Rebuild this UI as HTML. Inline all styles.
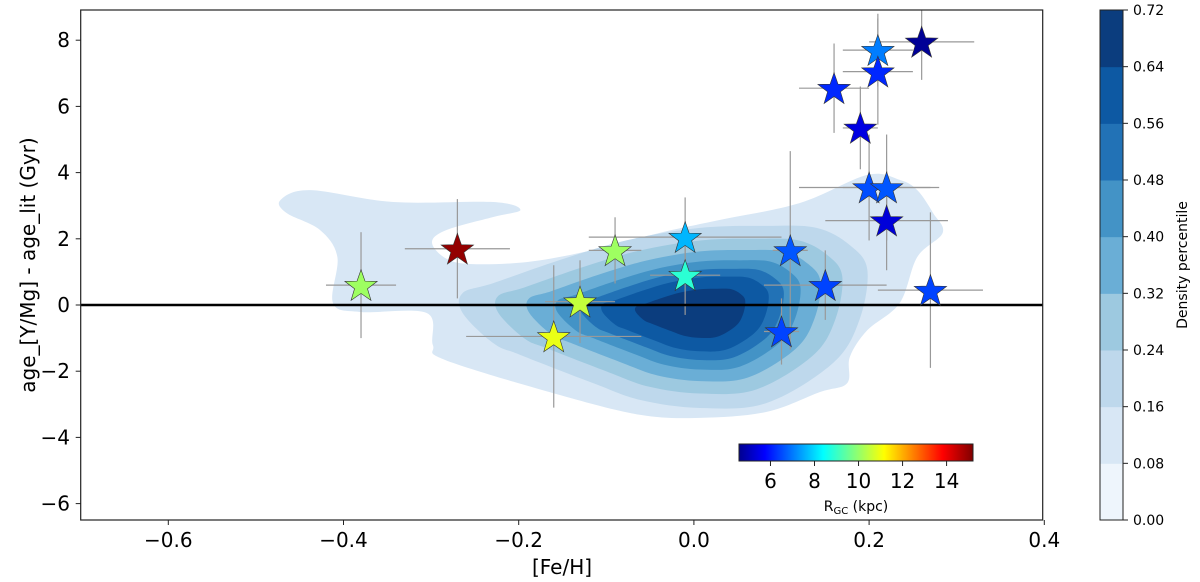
<!DOCTYPE html>
<html><head><meta charset="utf-8">
<style>
html,body{margin:0;padding:0;background:#fff;}
svg{display:block;font-family:"DejaVu Sans","Liberation Sans",sans-serif;}
</style></head>
<body>
<svg id="chart" width="1200" height="582" viewBox="0 0 1200 582">
<defs>
<linearGradient id="jet" x1="0" x2="1" y1="0" y2="0">
<stop offset="0" stop-color="#00008f"/><stop offset="0.11" stop-color="#0000ff"/><stop offset="0.36" stop-color="#00ffff"/>
<stop offset="0.62" stop-color="#ffff00"/><stop offset="0.87" stop-color="#ff0000"/><stop offset="1" stop-color="#800000"/>
</linearGradient>
<clipPath id="plotclip"><rect x="80.7" y="10" width="962" height="510"/></clipPath>
</defs>
<g id="contours" clip-path="url(#plotclip)"></g>
<g id="errs" clip-path="url(#plotclip)"></g>
<line id="zeroline" stroke="#000" stroke-width="2.5"/>
<g id="stars" clip-path="url(#plotclip)"></g>
<rect x="80.7" y="10" width="962" height="510" fill="none" stroke="#222" stroke-width="1.2"/>
<g id="xticks"></g>
<g id="yticks"></g>
<text x="562" y="574" font-size="20" text-anchor="middle">[Fe/H]</text>
<text transform="translate(35,265) rotate(-90)" font-size="20" text-anchor="middle">age_[Y/Mg] - age_lit (Gyr)</text>
<g>
<rect x="739" y="444" width="234" height="17" fill="url(#jet)" stroke="#222" stroke-width="1"/>
<g id="rgcticks"></g>
<text x="856" y="511" font-size="14" text-anchor="middle">R<tspan font-size="10" dy="3">GC</tspan><tspan dy="-3"> (kpc)</tspan></text>
</g>
<g id="dcb"></g>
<text transform="translate(1187,265) rotate(-90)" font-size="14" text-anchor="middle">Density percentile</text>
</svg>
<script>
// ---- data ----
const feh   = [-0.38,-0.27,-0.16,-0.13,-0.09,-0.01,-0.01,0.10,0.11,0.15,0.27,0.22,0.20,0.22,0.26,0.21,0.21,0.16,0.19];
const dAge  = [0.6,1.7,-0.95,0.1,1.65,2.05,0.9,-0.8,1.65,0.6,0.45,2.55,3.55,3.55,7.95,7.7,7.05,6.55,5.35];
const xErr  = [0.04,0.06,0.10,0.04,0.03,0.11,0.04,0.02,0.02,0.07,0.06,0.07,0.08,0.05,0.06,0.04,0.04,0.04,0.02];
const yErr  = [1.6,1.5,2.15,1.25,1.0,1.2,1.2,1.0,3.0,1.05,2.35,1.5,1.6,1.6,1.15,1.1,1.6,1.35,1.25];
const rgc   = [10.2,15.0,11.0,10.6,10.2,7.8,9.0,6.6,6.8,6.6,6.6,5.5,6.7,6.8,4.8,7.2,6.3,6.3,5.6];
const xTicks = [-0.6,-0.4,-0.2,0.0,0.2,0.4];
const xTickLabels = ["\u22120.6","\u22120.4","\u22120.2","0.0","0.2","0.4"];
const yTicks = [-6,-4,-2,0,2,4,6,8];
const yTickLabels = ["\u22126","\u22124","\u22122","0","2","4","6","8"];
const rgcTicks = [6,8,10,12,14];
const densLevels = [0.00,0.08,0.16,0.24,0.32,0.40,0.48,0.56,0.64,0.72];
const densColors = ["#eef5fc","#d8e7f5","#bed8ec","#9dc9e0","#6aaed6","#4393c6","#2272b6","#0d59a3","#0b3d7e"];
// outer (0.08) contour in data coords [feh, dAge]
const outerX = [-0.472,-0.438,-0.343,-0.229,-0.198,-0.229,-0.282,-0.299,-0.284,-0.256,-0.190,-0.115,-0.039,0.030,0.121,0.198,0.235,0.255,0.273,0.284,0.255,0.235,0.198,0.178,0.175,0.144,0.083,0.007,-0.061,-0.153,-0.284,-0.298,-0.305,-0.381,-0.412,-0.407,-0.427,-0.465];
const outerY = [3.17,3.47,3.11,3.11,2.87,2.66,2.27,1.90,1.42,1.24,1.30,1.66,2.18,2.57,3.08,3.93,3.78,3.47,2.78,2.18,1.45,0.06,-0.76,-1.57,-2.36,-2.63,-3.23,-3.41,-3.32,-2.72,-1.66,-1.21,-0.24,-0.21,0.06,1.45,2.27,2.78];
// 0.16 contour
const innerX = [-0.264,-0.229,-0.153,-0.076,0.007,0.083,0.140,0.178,0.198,0.189,0.159,0.083,0.007,-0.061,-0.115,-0.198,-0.229,-0.264];
const innerY = [0.36,0.66,1.36,1.96,2.33,2.39,2.33,1.81,1.06,-0.45,-1.75,-2.96,-3.11,-2.87,-2.36,-1.51,-1.15,-0.24];
const coreX = 0.007, coreY = -0.21;
const innerScales = [0.85,0.72,0.60,0.50,0.41,0.27];

// ---- axes ----
const X = v => 80.7 + (v + 0.7) * 876;
const Y = v => 305 - v * 33.1;
const XR = v => 739 + (v - 4.57) / (15.2 - 4.57) * 234;
const NS = "http://www.w3.org/2000/svg";
function mk(tag, attrs, parent){const e=document.createElementNS(NS,tag);for(const k in attrs)e.setAttribute(k,attrs[k]);parent.appendChild(e);return e;}

function smoothPath(pts){
  const n=pts.length;let d=`M${pts[0][0]},${pts[0][1]}`;
  for(let i=0;i<n;i++){
    const p0=pts[(i-1+n)%n],p1=pts[i],p2=pts[(i+1)%n],p3=pts[(i+2)%n];
    const c1=[p1[0]+(p2[0]-p0[0])/6,p1[1]+(p2[1]-p0[1])/6];
    const c2=[p2[0]-(p3[0]-p1[0])/6,p2[1]-(p3[1]-p1[1])/6];
    d+=`C${c1[0]},${c1[1]} ${c2[0]},${c2[1]} ${p2[0]},${p2[1]}`;
  }
  return d+"Z";
}
const cg=document.getElementById('contours');
{
  const pts=outerX.map((x,i)=>[X(x),Y(outerY[i])]);
  const p=mk('path',{d:smoothPath(pts),fill:densColors[1]},cg);
  
  
}
const allScales=[1].concat(innerScales);
allScales.forEach((s,k)=>{
  const pts=innerX.map((x,i)=>[X(coreX+(x-coreX)*s),Y(coreY+(innerY[i]-coreY)*s)]);
  const p=mk('path',{d:smoothPath(pts),fill:densColors[k+2]},cg);
  
  
});

const zl=document.getElementById('zeroline');
zl.setAttribute('x1',80.7);zl.setAttribute('x2',1042.7);zl.setAttribute('y1',Y(0));zl.setAttribute('y2',Y(0));

function jet(v){
  const t=Math.max(0,Math.min(1,(v-4.57)/(15.2-4.57)));
  const f=(a)=>Math.max(0,Math.min(1,1.5-Math.abs(4*t-a)));
  return `rgb(${Math.round(255*f(3))},${Math.round(255*f(2))},${Math.round(255*f(1))})`;
}
function starPath(cx,cy,R){
  const r=R*0.4;let d="";
  for(let i=0;i<10;i++){const a=-Math.PI/2+i*Math.PI/5;const rr=i%2?r:R;d+=(i?"L":"M")+(cx+rr*Math.cos(a)).toFixed(2)+","+(cy+rr*Math.sin(a)).toFixed(2);}
  return d+"Z";
}
const eg=document.getElementById('errs'),sg=document.getElementById('stars');
feh.forEach((x,i)=>{
  const h=mk('line',{x1:X(x-xErr[i]),x2:X(x+xErr[i]),y1:Y(dAge[i]),y2:Y(dAge[i]),stroke:"#999",'stroke-width':1.2},eg);
  
  
  const v=mk('line',{x1:X(x),x2:X(x),y1:Y(dAge[i]-yErr[i]),y2:Y(dAge[i]+yErr[i]),stroke:"#999",'stroke-width':1.2},eg);
  
  
});
feh.forEach((x,i)=>{
  const s=mk('path',{d:starPath(X(x),Y(dAge[i])+1.5,17),fill:jet(rgc[i]),stroke:"#333",'stroke-width':0.6},sg);
  
  
});

const xt=document.getElementById('xticks');
xTicks.forEach((v,i)=>{
  const l=mk('line',{x1:X(v),x2:X(v),y1:520,y2:525,stroke:"#222",'stroke-width':1},xt);
  
  
  const t=mk('text',{x:X(v),y:547,'font-size':20,'text-anchor':'middle'},xt);t.textContent=xTickLabels[i];
  
  
});
const yt=document.getElementById('yticks');
yTicks.forEach((v,i)=>{
  const l=mk('line',{x1:75.7,x2:80.7,y1:Y(v),y2:Y(v),stroke:"#222",'stroke-width':1},yt);
  
  
  const t=mk('text',{x:70,y:Y(v)+7,'font-size':20,'text-anchor':'end'},yt);t.textContent=yTickLabels[i];
  
  
});
const rt=document.getElementById('rgcticks');
rgcTicks.forEach(v=>{
  const l=mk('line',{x1:XR(v),x2:XR(v),y1:461,y2:466,stroke:"#222",'stroke-width':1},rt);
  
  
  const t=mk('text',{x:XR(v),y:488,'font-size':20,'text-anchor':'middle'},rt);t.textContent=v;
  
  
});
const dcb=document.getElementById('dcb');
const DY=v=>520-(v/0.72)*510;
densColors.forEach((c,i)=>{
  const r=mk('rect',{x:1100,y:DY(densLevels[i+1]),width:23,height:DY(densLevels[i])-DY(densLevels[i+1])+0.5,fill:c},dcb);
  
  
});
mk('rect',{x:1100,y:10,width:23,height:510,fill:'none',stroke:'#222','stroke-width':1},dcb);
densLevels.forEach(v=>{
  const l=mk('line',{x1:1123,x2:1128,y1:DY(v),y2:DY(v),stroke:"#222",'stroke-width':1},dcb);
  
  
  const t=mk('text',{x:1133,y:DY(v)+5,'font-size':14},dcb);t.textContent=v.toFixed(2);
  
  
});
</script>
</body></html>
